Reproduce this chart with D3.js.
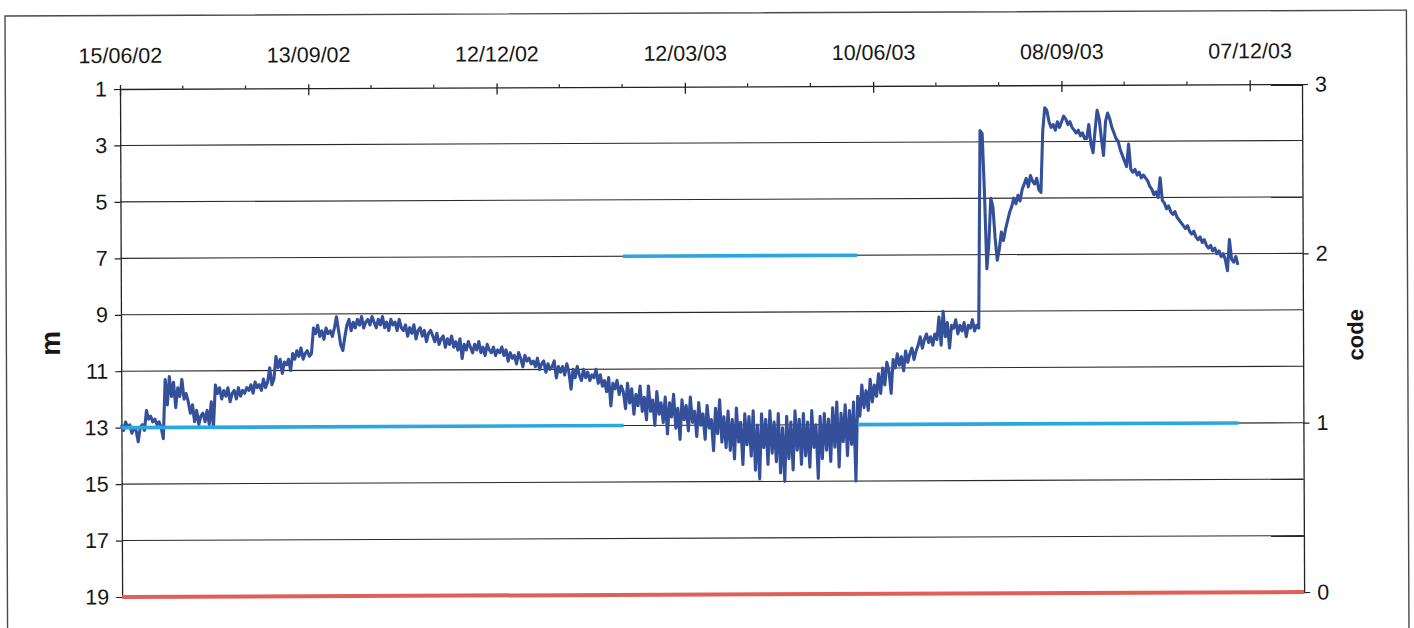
<!DOCTYPE html>
<html>
<head>
<meta charset="utf-8">
<script src="https://cdn.jsdelivr.net/npm/d3@7"></script>
<style>
  html, body { margin: 0; padding: 0; background: #fff; }
  svg { display: block; }
  text { font-family: "Liberation Sans", Arial, sans-serif; fill: #161616; }
</style>
</head>
<body>
<svg id="chart" width="1414" height="628"></svg>
<script>
// ---- data ---------------------------------------------------------------
const startDate = "2002-06-15";   // first reading, one reading per day after it
const axisEnd   = "2004-01-01";

const dateTickLabels = ["15/06/02", "13/09/02", "12/12/02", "12/03/03", "10/06/03", "08/09/03", "07/12/03"];
const depthTicks = [1, 3, 5, 7, 9, 11, 13, 15, 17, 19];
const codeTicks  = [0, 1, 2, 3];

// daily water level (m)
const depth = [
  12.9, 13.1, 12.8, 13.0, 12.9, 13.2, 13.0, 13.1, 13.5, 13.0, 12.9, 13.1,
  12.4, 12.7, 12.6, 12.8, 12.7, 12.9, 12.8, 13.0, 13.4,
  11.3, 12.2, 11.2, 11.9, 11.4, 12.3, 11.6, 11.9, 11.3, 12.0, 11.8,
  12.1, 12.5, 12.2, 12.8, 12.4, 12.9, 12.6,
  12.5, 12.8, 12.4, 12.9, 12.1, 13.0,
  11.5, 11.8, 11.6, 12.0, 11.7, 11.9, 11.6, 12.1, 11.8, 11.7, 12.0, 11.6, 11.9, 11.7, 11.8, 11.6,
  11.7, 11.5, 11.8, 11.4, 11.6, 11.5, 11.7, 11.3, 11.6, 11.4, 10.9, 11.5, 11.3,
  10.5, 10.9, 10.6, 11.1, 10.7, 10.8, 10.6, 11.0,
  10.4, 10.6, 10.3, 10.5, 10.2, 10.6, 10.4, 10.3, 10.5, 10.4,
  9.5, 9.7, 9.4, 9.8, 9.6, 9.9, 9.5, 9.7, 9.6, 9.8, 9.5,
  9.1, 9.6, 10.1, 10.3, 9.8,
  9.4, 9.2, 9.6, 9.3, 9.5, 9.2, 9.4, 9.1, 9.5, 9.3, 9.2, 9.4, 9.1, 9.3, 9.5,
  9.2, 9.4, 9.1, 9.5, 9.3, 9.6, 9.2, 9.4, 9.3, 9.6, 9.2, 9.5,
  9.6, 9.4, 9.8, 9.5, 9.7, 9.4, 9.9, 9.6, 9.5, 9.8, 9.6, 10.0, 9.7, 9.6,
  9.8, 10.0, 9.7, 10.1, 9.9, 9.8, 10.2, 9.9, 10.1, 9.8, 10.2, 10.0, 10.3, 9.9, 10.6,
  10.1, 10.3, 10.0, 10.2, 10.4, 10.1, 10.3, 10.0, 10.4, 10.2, 10.5, 10.1, 10.3, 10.4, 10.2, 10.5, 10.3, 10.4, 10.2,
  10.5, 10.3, 10.7, 10.4, 10.6, 10.5, 10.8, 10.4, 10.6, 10.9, 10.5, 10.7, 10.6, 10.8,
  10.7, 10.9, 10.6, 11.0, 10.8, 10.7, 11.1, 10.8, 11.0, 10.9, 10.7, 11.3, 10.9, 11.1,
  10.9, 11.2, 10.8, 11.1, 11.7, 11.0, 11.3, 10.9, 11.2, 11.4, 11.0, 11.3, 11.1, 11.4, 11.2,
  11.3, 11.0, 11.5, 11.2, 11.6, 11.4, 11.8, 11.3, 12.3, 11.5, 11.7, 11.4, 11.9, 11.6,
  11.8, 12.4, 11.5, 12.2, 11.7, 12.6, 11.9, 12.3, 11.6, 12.5,
  12.0, 12.8, 11.6, 12.5, 12.1, 13.0, 11.8, 12.6, 12.2,
  12.9, 12.0, 13.3, 12.2, 12.7, 11.9, 13.1, 12.4, 13.5, 12.1, 12.8, 12.3, 13.2, 12.0, 12.9, 12.5, 13.4, 12.2, 13.0,
  12.6, 13.5, 12.3, 13.1, 12.8, 13.9, 12.4, 13.3, 12.1, 13.6, 12.7, 13.8,
  12.5, 13.9, 12.8, 14.2, 12.4, 13.6, 12.9, 14.4, 12.6, 13.7,
  12.7, 14.1, 12.5, 14.6, 13.0, 14.9, 12.6, 13.8, 12.8, 14.4, 12.5, 14.0,
  12.9, 14.3, 12.6, 14.7, 13.1, 15.0, 12.7, 14.2, 12.9, 14.6, 12.5, 13.9, 12.8, 14.4,
  12.6, 14.1, 12.9, 14.5, 12.5, 13.8, 13.0, 14.9, 12.7, 14.2, 12.6, 13.9, 12.8, 14.3,
  12.4, 13.8, 12.2, 14.5, 12.6, 13.6, 12.3, 14.1, 12.5, 13.7, 12.2,
  15.0,
  12.0, 12.7, 11.6, 12.4, 11.8, 12.5, 11.4, 12.2, 11.6, 12.0, 11.2, 11.9,
  11.0, 11.6, 10.8,
  11.1, 11.9, 10.7, 11.0, 10.5, 10.9, 10.6, 11.1, 10.4, 10.8, 10.5, 10.3, 10.7, 10.4,
  10.2, 9.9, 10.3, 10.0, 9.8, 10.1, 9.9, 10.2, 9.8, 10.0,
  9.2, 10.2, 9.0, 9.9, 9.4, 10.3, 9.5,
  9.6, 9.3, 9.8, 9.5, 9.7, 9.4, 9.9, 9.5, 9.6, 9.3, 9.7, 9.5, 9.6,
  2.6, 2.7, 4.8, 7.5, 6.6, 5.0, 5.3, 6.4, 7.2, 6.8, 6.2, 6.5, 6.1, 5.8, 5.5,
  5.3, 5.0, 5.2, 4.9, 5.1, 4.7, 4.5, 4.3, 4.6, 4.2, 4.4, 4.5, 4.3, 4.7, 4.8,
  2.6, 1.8, 1.9,
  2.3, 2.5, 2.4, 2.6, 2.3, 2.5,
  2.3, 2.1, 2.2, 2.4, 2.3,
  2.5, 2.6, 2.7, 2.6, 2.8, 2.7, 2.9,
  2.9, 2.4, 3.1, 3.4, 2.6,
  1.9, 2.2, 2.9, 3.5, 2.3, 2.0, 2.2, 2.5,
  2.7, 2.9, 3.0, 3.3,
  3.5, 3.7, 3.9, 3.1,
  4.0, 4.1, 4.0, 4.2, 4.1, 4.3, 4.2, 4.3,
  4.4, 4.6, 4.7, 4.9, 4.8, 5.0, 4.3,
  5.1, 5.2, 5.4, 5.3, 5.5, 5.6, 5.5, 5.7, 5.8, 5.9,
  6.0, 6.1, 6.0, 6.2, 6.3, 6.2, 6.4, 6.5, 6.4,
  6.6, 6.5, 6.7, 6.8, 6.7, 6.9, 6.8, 7.0, 6.9, 7.1,
  7.0, 7.2, 7.6, 6.5, 7.2, 7.3, 7.1, 7.4
];

// status code periods
const codeFrom  = ["2002-06-15", "2003-02-10", "2003-06-02"];
const codeTo    = ["2003-02-10", "2003-06-02", "2003-12-01"];
const codeValue = [1, 2, 1];

// baseline code over the whole period
const baseFrom  = "2002-06-15";
const baseTo    = "2004-01-01";
const baseValue = 0;

// ---- layout -------------------------------------------------------------
const plotLeft = 120, plotRight = 1302, plotTop = 89, plotBottom = 597;

const parseISO = d3.utcParse("%Y-%m-%d");
const parseTick = d3.utcParse("%d/%m/%y");
const t0 = parseISO(startDate);

const x = d3.scaleUtc().domain([t0, parseISO(axisEnd)]).range([plotLeft, plotRight]);
const yL = d3.scaleLinear().domain([1, 19]).range([plotTop, plotBottom]);
const yR = d3.scaleLinear().domain([0, 3]).range([plotBottom, plotTop]);

const svg = d3.select("#chart");
svg.append("rect").attr("width", 1414).attr("height", 628).attr("fill", "#fff");

// the sheet sits very slightly tilted
const g = svg.append("g").attr("transform", `rotate(-0.24, ${plotLeft}, ${plotTop})`);

// outer frame
g.append("rect")
  .attr("x", 5.3).attr("y", 15.5)
  .attr("width", 1401.4).attr("height", 700)
  .attr("fill", "none").attr("stroke", "#4a4a4a").attr("stroke-width", 1.4);

// horizontal gridlines
g.append("g").selectAll("line")
  .data(depthTicks.filter(v => v !== 1))
  .join("line")
  .attr("x1", plotLeft).attr("x2", plotRight)
  .attr("y1", d => yL(d)).attr("y2", d => yL(d))
  .attr("stroke", "#2a2a2a").attr("stroke-width", 1.1);

// top date axis
const tickDates = dateTickLabels.map(parseTick);
const xAxis = d3.axisTop(x)
  .tickValues(tickDates)
  .tickFormat(d3.utcFormat("%d/%m/%y"))
  .tickSizeInner(0).tickSizeOuter(0).tickPadding(26);
const gx = g.append("g").attr("transform", `translate(0,${plotTop})`).call(xAxis);
gx.select(".domain").attr("stroke", "#222").attr("stroke-width", 1.3);
gx.selectAll(".tick line").attr("y1", -4).attr("y2", 7).attr("stroke", "#222").attr("stroke-width", 1.3);
gx.selectAll(".tick text").attr("font-size", 21.5).attr("fill", "#161616");

// minor ticks every 30 days
const minorDates = d3.range(30, 566, 30).filter(n => n % 90 !== 0).map(n => d3.utcDay.offset(t0, n));
g.append("g").selectAll("line")
  .data(minorDates)
  .join("line")
  .attr("x1", d => x(d)).attr("x2", d => x(d))
  .attr("y1", plotTop - 3).attr("y2", plotTop)
  .attr("stroke", "#222").attr("stroke-width", 1.2);

// left axis (m, increasing downward)
const gl = g.append("g").attr("transform", `translate(${plotLeft},0)`)
  .call(d3.axisLeft(yL).tickValues(depthTicks).tickFormat(d3.format("d"))
    .tickSizeInner(6).tickSizeOuter(0).tickPadding(7));
gl.select(".domain").attr("stroke", "#222").attr("stroke-width", 1.3);
gl.selectAll(".tick line").attr("stroke", "#222").attr("stroke-width", 1.2);
gl.selectAll(".tick text").attr("font-size", 21.5).attr("fill", "#161616");

// right axis (code)
const gr = g.append("g").attr("transform", `translate(${plotRight},0)`)
  .call(d3.axisRight(yR).tickValues(codeTicks).tickFormat(d3.format("d"))
    .tickSizeInner(6).tickSizeOuter(0).tickPadding(7));
gr.select(".domain").attr("stroke", "#222").attr("stroke-width", 1.3);
gr.selectAll(".tick line").attr("stroke", "#222").attr("stroke-width", 1.2);
gr.selectAll(".tick text").attr("font-size", 21.5).attr("fill", "#161616");

// axis titles
g.append("text")
  .attr("transform", "translate(59,343) rotate(-90)")
  .attr("text-anchor", "middle")
  .attr("font-size", 28).attr("font-weight", "bold")
  .text("m");
g.append("text")
  .attr("transform", "translate(1362,340) rotate(-90)")
  .attr("text-anchor", "middle")
  .attr("font-size", 22).attr("font-weight", "bold")
  .text("code");

// water level series
const levelLine = d3.line()
  .x((d, i) => x(d3.utcDay.offset(t0, i)))
  .y(d => yL(d))
  .curve(d3.curveLinear);
g.append("path")
  .datum(depth)
  .attr("d", levelLine)
  .attr("fill", "none")
  .attr("stroke", "#34509a")
  .attr("stroke-width", 3.1)
  .attr("stroke-linejoin", "round");

// baseline code
g.append("line")
  .attr("x1", x(parseISO(baseFrom))).attr("x2", x(parseISO(baseTo)))
  .attr("y1", yR(baseValue)).attr("y2", yR(baseValue))
  .attr("stroke", "#df6058").attr("stroke-width", 4);

// status code periods
g.append("g").selectAll("line")
  .data(codeValue.map((v, i) => ({ from: parseISO(codeFrom[i]), to: parseISO(codeTo[i]), v })))
  .join("line")
  .attr("x1", d => x(d.from)).attr("x2", d => x(d.to))
  .attr("y1", d => yR(d.v)).attr("y2", d => yR(d.v))
  .attr("stroke", "#2ba7e0").attr("stroke-width", 3.6);
</script>
</body>
</html>
